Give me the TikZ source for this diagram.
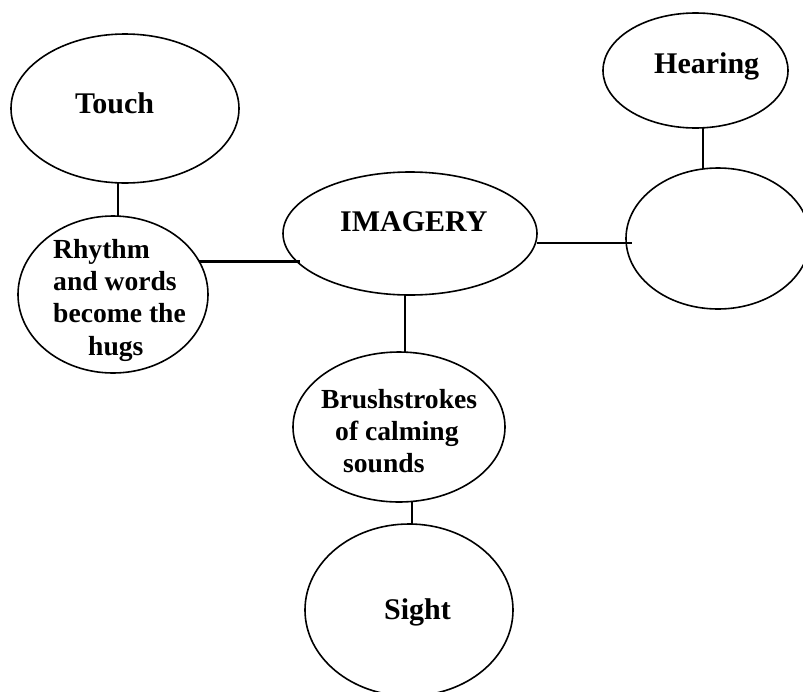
\documentclass[tikz,border=0pt]{standalone}
\usepackage{fontspec}
\setmainfont{Liberation Serif}
\usetikzlibrary{shapes.geometric,calc}
\begin{document}
\begin{tikzpicture}[x=1pt,y=-1pt,
  bub/.style={draw,ellipse,inner sep=0pt,outer sep=0pt,line width=1.6pt},
  lbl/.style={anchor=base west,inner sep=0pt,font=\fontsize{30}{32}\selectfont\bfseries},
  lbs/.style={anchor=base west,inner sep=0pt,font=\fontsize{27.6}{32}\selectfont\bfseries},
  con/.style={line width=2.2pt}]
\useasboundingbox (0,0) rectangle (803,691);
\clip (0,0) rectangle (803,691);
% ellipses
\node[bub,minimum width=228pt,minimum height=149pt] (touch) at (125,108.5) {};
\node[bub,minimum width=190pt,minimum height=157pt] (rhythm) at (113,294.5) {};
\node[bub,minimum width=254pt,minimum height=123pt] (imagery) at (410,233.5) {};
\node[bub,minimum width=185pt,minimum height=115pt] (hearing) at (695.5,70.5) {};
\node[bub,minimum width=184pt,minimum height=141pt] (empty) at (718,238.5) {};
\node[bub,minimum width=212pt,minimum height=150pt] (brush) at (399,427) {};
\node[bub,minimum width=208pt,minimum height=172pt] (sight) at (409,610) {};
% labels
\node[lbl] (touchT) at (75,113) {Touch};
\node[lbs] (r1) at (53,258) {Rhythm};
\node[lbs] (r2) at (53,290) {and words};
\node[lbs] (r3) at (53,322) {become the};
\node[lbs] (r4) at (88,355) {hugs};
\node[lbl] (imgT) at (340,231) {IMAGERY};
\node[lbl] (hearT) at (654,73) {Hearing};
\node[lbs] (b1) at (321,408) {Brushstrokes};
\node[lbs] (b2) at (335,440) {of calming};
\node[lbs] (b3) at (343,472) {sounds};
\node[lbl] (sightT) at (384,619) {Sight};
% connectors
\coordinate (tr) at ([xshift=-7pt]touch.south);
\draw[con] (tr) -- (tr |- rhythm.north);
\coordinate (ri) at (rhythm.21);
\draw[con] (ri) -- ($(ri -| imagery.west)+(17,0)$);
\coordinate (ie) at ([yshift=-9.5pt]imagery.east);
\draw[con] (ie) -- ($(ie -| empty.west)+(6,0)$);
\coordinate (he) at ([xshift=7.5pt]hearing.south);
\draw[con] (he) -- (he |- empty.north);
\coordinate (ib) at ([xshift=-5pt]imagery.south);
\draw[con] (ib) -- (ib |- brush.north);
\coordinate (bs) at ([xshift=13pt]brush.south);
\draw[con] (bs) -- (bs |- sight.north);
\end{tikzpicture}
\end{document}
